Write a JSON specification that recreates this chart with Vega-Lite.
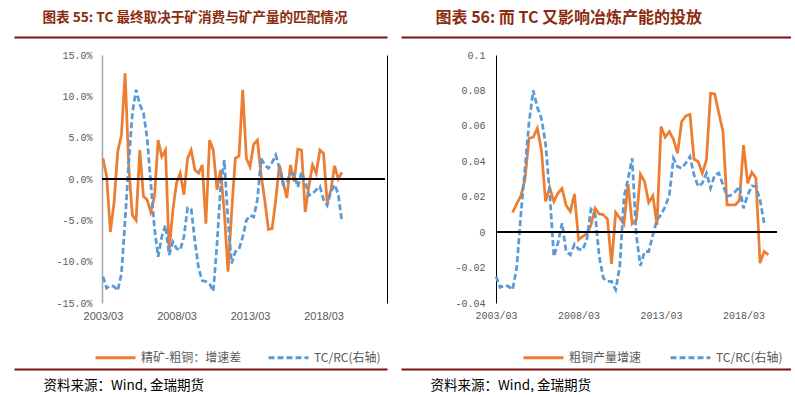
{
"$schema": "https://vega.github.io/schema/vega-lite/v6.json",
"background": "white",
"padding": {"left": 14, "top": 9, "right": 0, "bottom": 0},
"config": {"view": {"stroke": null}, "locale": {"number": {"decimal": ".", "thousands": ",", "grouping": [3], "currency": ["", ""], "minus": "-"}}},
"datasets": {
"left": [
{"series":"精矿-粗铜：增速差","date":"2003-03-01","value":2.5},
{"series":"精矿-粗铜：增速差","date":"2003-06-01","value":0.3},
{"series":"精矿-粗铜：增速差","date":"2003-09-01","value":-6.4},
{"series":"精矿-粗铜：增速差","date":"2003-12-01","value":-2.9},
{"series":"精矿-粗铜：增速差","date":"2004-03-01","value":3.3},
{"series":"精矿-粗铜：增速差","date":"2004-06-01","value":5.3},
{"series":"精矿-粗铜：增速差","date":"2004-09-01","value":12.8},
{"series":"精矿-粗铜：增速差","date":"2004-12-01","value":1.5},
{"series":"精矿-粗铜：增速差","date":"2005-03-01","value":-4.4},
{"series":"精矿-粗铜：增速差","date":"2005-06-01","value":-5.0},
{"series":"精矿-粗铜：增速差","date":"2005-09-01","value":3.5},
{"series":"精矿-粗铜：增速差","date":"2005-12-01","value":-2.1},
{"series":"精矿-粗铜：增速差","date":"2006-03-01","value":-2.5},
{"series":"精矿-粗铜：增速差","date":"2006-06-01","value":-4.0},
{"series":"精矿-粗铜：增速差","date":"2006-09-01","value":-2.1},
{"series":"精矿-粗铜：增速差","date":"2006-12-01","value":4.7},
{"series":"精矿-粗铜：增速差","date":"2007-03-01","value":2.7},
{"series":"精矿-粗铜：增速差","date":"2007-06-01","value":3.5},
{"series":"精矿-粗铜：增速差","date":"2007-09-01","value":-8.8},
{"series":"精矿-粗铜：增速差","date":"2007-12-01","value":-3.8},
{"series":"精矿-粗铜：增速差","date":"2008-03-01","value":-0.5},
{"series":"精矿-粗铜：增速差","date":"2008-06-01","value":0.7},
{"series":"精矿-粗铜：增速差","date":"2008-09-01","value":-1.9},
{"series":"精矿-粗铜：增速差","date":"2008-12-01","value":2.5},
{"series":"精矿-粗铜：增速差","date":"2009-03-01","value":3.5},
{"series":"精矿-粗铜：增速差","date":"2009-06-01","value":1.1},
{"series":"精矿-粗铜：增速差","date":"2009-09-01","value":0.7},
{"series":"精矿-粗铜：增速差","date":"2009-12-01","value":1.7},
{"series":"精矿-粗铜：增速差","date":"2010-03-01","value":-5.4},
{"series":"精矿-粗铜：增速差","date":"2010-06-01","value":4.7},
{"series":"精矿-粗铜：增速差","date":"2010-09-01","value":3.5},
{"series":"精矿-粗铜：增速差","date":"2010-12-01","value":-1.3},
{"series":"精矿-粗铜：增速差","date":"2011-03-01","value":1.1},
{"series":"精矿-粗铜：增速差","date":"2011-06-01","value":-4.0},
{"series":"精矿-粗铜：增速差","date":"2011-09-01","value":-11.2},
{"series":"精矿-粗铜：增速差","date":"2011-12-01","value":-4.0},
{"series":"精矿-粗铜：增速差","date":"2012-03-01","value":2.5},
{"series":"精矿-粗铜：增速差","date":"2012-06-01","value":2.8},
{"series":"精矿-粗铜：增速差","date":"2012-09-01","value":10.8},
{"series":"精矿-粗铜：增速差","date":"2012-12-01","value":2.5},
{"series":"精矿-粗铜：增速差","date":"2013-03-01","value":1.5},
{"series":"精矿-粗铜：增速差","date":"2013-06-01","value":4.2},
{"series":"精矿-粗铜：增速差","date":"2013-09-01","value":4.7},
{"series":"精矿-粗铜：增速差","date":"2013-12-01","value":0.5},
{"series":"精矿-粗铜：增速差","date":"2014-03-01","value":-2.5},
{"series":"精矿-粗铜：增速差","date":"2014-06-01","value":-6.1},
{"series":"精矿-粗铜：增速差","date":"2014-09-01","value":-6.0},
{"series":"精矿-粗铜：增速差","date":"2014-12-01","value":-2.5},
{"series":"精矿-粗铜：增速差","date":"2015-03-01","value":1.7},
{"series":"精矿-粗铜：增速差","date":"2015-06-01","value":-0.3},
{"series":"精矿-粗铜：增速差","date":"2015-09-01","value":-2.3},
{"series":"精矿-粗铜：增速差","date":"2015-12-01","value":1.7},
{"series":"精矿-粗铜：增速差","date":"2016-03-01","value":-0.3},
{"series":"精矿-粗铜：增速差","date":"2016-06-01","value":3.6},
{"series":"精矿-粗铜：增速差","date":"2016-09-01","value":3.5},
{"series":"精矿-粗铜：增速差","date":"2016-12-01","value":-4.0},
{"series":"精矿-粗铜：增速差","date":"2017-03-01","value":-0.9},
{"series":"精矿-粗铜：增速差","date":"2017-06-01","value":1.7},
{"series":"精矿-粗铜：增速差","date":"2017-09-01","value":0.7},
{"series":"精矿-粗铜：增速差","date":"2017-12-01","value":3.5},
{"series":"精矿-粗铜：增速差","date":"2018-03-01","value":3.1},
{"series":"精矿-粗铜：增速差","date":"2018-06-01","value":-2.9},
{"series":"精矿-粗铜：增速差","date":"2018-09-01","value":-1.3},
{"series":"精矿-粗铜：增速差","date":"2018-12-01","value":1.6},
{"series":"精矿-粗铜：增速差","date":"2019-03-01","value":0.0},
{"series":"精矿-粗铜：增速差","date":"2019-06-01","value":0.8},
{"series":"TC/RC(右轴)","date":"2003-03-01","value":-11.8},
{"series":"TC/RC(右轴)","date":"2003-06-01","value":-13.2},
{"series":"TC/RC(右轴)","date":"2003-09-01","value":-12.9},
{"series":"TC/RC(右轴)","date":"2003-12-01","value":-13.0},
{"series":"TC/RC(右轴)","date":"2004-03-01","value":-13.5},
{"series":"TC/RC(右轴)","date":"2004-06-01","value":-11.5},
{"series":"TC/RC(右轴)","date":"2004-09-01","value":-5.0},
{"series":"TC/RC(右轴)","date":"2004-12-01","value":2.0},
{"series":"TC/RC(右轴)","date":"2005-03-01","value":8.0},
{"series":"TC/RC(右轴)","date":"2005-06-01","value":10.8},
{"series":"TC/RC(右轴)","date":"2005-09-01","value":9.0},
{"series":"TC/RC(右轴)","date":"2005-12-01","value":8.0},
{"series":"TC/RC(右轴)","date":"2006-03-01","value":5.0},
{"series":"TC/RC(右轴)","date":"2006-06-01","value":-0.5},
{"series":"TC/RC(右轴)","date":"2006-09-01","value":-6.0},
{"series":"TC/RC(右轴)","date":"2006-12-01","value":-9.4},
{"series":"TC/RC(右轴)","date":"2007-03-01","value":-7.0},
{"series":"TC/RC(右轴)","date":"2007-06-01","value":-5.6},
{"series":"TC/RC(右轴)","date":"2007-09-01","value":-9.2},
{"series":"TC/RC(右轴)","date":"2007-12-01","value":-7.6},
{"series":"TC/RC(右轴)","date":"2008-03-01","value":-8.4},
{"series":"TC/RC(右轴)","date":"2008-06-01","value":-8.6},
{"series":"TC/RC(右轴)","date":"2008-09-01","value":-7.0},
{"series":"TC/RC(右轴)","date":"2008-12-01","value":-3.5},
{"series":"TC/RC(右轴)","date":"2009-03-01","value":-3.6},
{"series":"TC/RC(右轴)","date":"2009-06-01","value":-7.5},
{"series":"TC/RC(右轴)","date":"2009-09-01","value":-10.8},
{"series":"TC/RC(右轴)","date":"2009-12-01","value":-12.3},
{"series":"TC/RC(右轴)","date":"2010-03-01","value":-12.4},
{"series":"TC/RC(右轴)","date":"2010-06-01","value":-12.7},
{"series":"TC/RC(右轴)","date":"2010-09-01","value":-13.6},
{"series":"TC/RC(右轴)","date":"2010-12-01","value":-8.0},
{"series":"TC/RC(右轴)","date":"2011-03-01","value":-1.0},
{"series":"TC/RC(右轴)","date":"2011-06-01","value":2.3},
{"series":"TC/RC(右轴)","date":"2011-09-01","value":-5.0},
{"series":"TC/RC(右轴)","date":"2011-12-01","value":-10.2},
{"series":"TC/RC(右轴)","date":"2012-03-01","value":-8.8},
{"series":"TC/RC(右轴)","date":"2012-06-01","value":-8.5},
{"series":"TC/RC(右轴)","date":"2012-09-01","value":-7.0},
{"series":"TC/RC(右轴)","date":"2012-12-01","value":-5.0},
{"series":"TC/RC(右轴)","date":"2013-03-01","value":-4.4},
{"series":"TC/RC(右轴)","date":"2013-06-01","value":-4.6},
{"series":"TC/RC(右轴)","date":"2013-09-01","value":-2.5},
{"series":"TC/RC(右轴)","date":"2013-12-01","value":2.5},
{"series":"TC/RC(右轴)","date":"2014-03-01","value":1.7},
{"series":"TC/RC(右轴)","date":"2014-06-01","value":1.3},
{"series":"TC/RC(右轴)","date":"2014-09-01","value":2.0},
{"series":"TC/RC(右轴)","date":"2014-12-01","value":2.9},
{"series":"TC/RC(右轴)","date":"2015-03-01","value":1.3},
{"series":"TC/RC(右轴)","date":"2015-06-01","value":-0.7},
{"series":"TC/RC(右轴)","date":"2015-09-01","value":-0.5},
{"series":"TC/RC(右轴)","date":"2015-12-01","value":0.7},
{"series":"TC/RC(右轴)","date":"2016-03-01","value":0.5},
{"series":"TC/RC(右轴)","date":"2016-06-01","value":-1.0},
{"series":"TC/RC(右轴)","date":"2016-09-01","value":0.8},
{"series":"TC/RC(右轴)","date":"2016-12-01","value":-0.3},
{"series":"TC/RC(右轴)","date":"2017-03-01","value":-2.0},
{"series":"TC/RC(右轴)","date":"2017-06-01","value":-1.8},
{"series":"TC/RC(右轴)","date":"2017-09-01","value":-1.3},
{"series":"TC/RC(右轴)","date":"2017-12-01","value":-0.9},
{"series":"TC/RC(右轴)","date":"2018-03-01","value":-2.5},
{"series":"TC/RC(右轴)","date":"2018-06-01","value":-3.2},
{"series":"TC/RC(右轴)","date":"2018-09-01","value":-1.5},
{"series":"TC/RC(右轴)","date":"2018-12-01","value":-0.7},
{"series":"TC/RC(右轴)","date":"2019-03-01","value":-1.8},
{"series":"TC/RC(右轴)","date":"2019-06-01","value":-5.2}
],
"right": [
{"series":"粗铜产量增速","date":"2004-03-01","value":0.0111},
{"series":"粗铜产量增速","date":"2004-06-01","value":0.016},
{"series":"粗铜产量增速","date":"2004-09-01","value":0.0205},
{"series":"粗铜产量增速","date":"2004-12-01","value":0.030},
{"series":"粗铜产量增速","date":"2005-03-01","value":0.053},
{"series":"粗铜产量增速","date":"2005-06-01","value":0.0536},
{"series":"粗铜产量增速","date":"2005-09-01","value":0.0586},
{"series":"粗铜产量增速","date":"2005-12-01","value":0.046},
{"series":"粗铜产量增速","date":"2006-03-01","value":0.0173},
{"series":"粗铜产量增速","date":"2006-06-01","value":0.0252},
{"series":"粗铜产量增速","date":"2006-09-01","value":0.0173},
{"series":"粗铜产量增速","date":"2006-12-01","value":0.022},
{"series":"粗铜产量增速","date":"2007-03-01","value":0.0246},
{"series":"粗铜产量增速","date":"2007-06-01","value":0.015},
{"series":"粗铜产量增速","date":"2007-09-01","value":0.0117},
{"series":"粗铜产量增速","date":"2007-12-01","value":0.0216},
{"series":"粗铜产量增速","date":"2008-03-01","value":-0.0043},
{"series":"粗铜产量增速","date":"2008-06-01","value":-0.0024},
{"series":"粗铜产量增速","date":"2008-09-01","value":-0.001},
{"series":"粗铜产量增速","date":"2008-12-01","value":0.0041},
{"series":"粗铜产量增速","date":"2009-03-01","value":0.0135},
{"series":"粗铜产量增速","date":"2009-06-01","value":0.0103},
{"series":"粗铜产量增速","date":"2009-09-01","value":0.0098},
{"series":"粗铜产量增速","date":"2009-12-01","value":0.0073},
{"series":"粗铜产量增速","date":"2010-03-01","value":-0.0179},
{"series":"粗铜产量增速","date":"2010-06-01","value":0.0111},
{"series":"粗铜产量增速","date":"2010-09-01","value":0.0079},
{"series":"粗铜产量增速","date":"2010-12-01","value":0.0045},
{"series":"粗铜产量增速","date":"2011-03-01","value":0.0273},
{"series":"粗铜产量增速","date":"2011-06-01","value":0.0047},
{"series":"粗铜产量增速","date":"2011-09-01","value":0.007},
{"series":"粗铜产量增速","date":"2011-12-01","value":0.0327},
{"series":"粗铜产量增速","date":"2012-03-01","value":0.0286},
{"series":"粗铜产量增速","date":"2012-06-01","value":0.0167},
{"series":"粗铜产量增速","date":"2012-09-01","value":0.0205},
{"series":"粗铜产量增速","date":"2012-12-01","value":0.0041},
{"series":"粗铜产量增速","date":"2013-03-01","value":0.0596},
{"series":"粗铜产量增速","date":"2013-06-01","value":0.0536},
{"series":"粗铜产量增速","date":"2013-09-01","value":0.0568},
{"series":"粗铜产量增速","date":"2013-12-01","value":0.0524},
{"series":"粗铜产量增速","date":"2014-03-01","value":0.0445},
{"series":"粗铜产量增速","date":"2014-06-01","value":0.0624},
{"series":"粗铜产量增速","date":"2014-09-01","value":0.0656},
{"series":"粗铜产量增速","date":"2014-12-01","value":0.0665},
{"series":"粗铜产量增速","date":"2015-03-01","value":0.0412},
{"series":"粗铜产量增速","date":"2015-06-01","value":0.0398},
{"series":"粗铜产量增速","date":"2015-09-01","value":0.0333},
{"series":"粗铜产量增速","date":"2015-12-01","value":0.0408},
{"series":"粗铜产量增速","date":"2016-03-01","value":0.0784},
{"series":"粗铜产量增速","date":"2016-06-01","value":0.078},
{"series":"粗铜产量增速","date":"2016-09-01","value":0.0671},
{"series":"粗铜产量增速","date":"2016-12-01","value":0.0568},
{"series":"粗铜产量增速","date":"2017-03-01","value":0.0154},
{"series":"粗铜产量增速","date":"2017-06-01","value":0.0154},
{"series":"粗铜产量增速","date":"2017-09-01","value":0.0154},
{"series":"粗铜产量增速","date":"2017-12-01","value":0.0179},
{"series":"粗铜产量增速","date":"2018-03-01","value":0.0492},
{"series":"粗铜产量增速","date":"2018-06-01","value":0.0276},
{"series":"粗铜产量增速","date":"2018-09-01","value":0.0338},
{"series":"粗铜产量增速","date":"2018-12-01","value":0.0305},
{"series":"粗铜产量增速","date":"2019-03-01","value":-0.0175},
{"series":"粗铜产量增速","date":"2019-06-01","value":-0.0109},
{"series":"粗铜产量增速","date":"2019-09-01","value":-0.0128},
{"series":"TC/RC(右轴)","date":"2003-03-01","value":-0.025},
{"series":"TC/RC(右轴)","date":"2003-06-01","value":-0.0312},
{"series":"TC/RC(右轴)","date":"2003-09-01","value":-0.030},
{"series":"TC/RC(右轴)","date":"2003-12-01","value":-0.0306},
{"series":"TC/RC(右轴)","date":"2004-03-01","value":-0.0325},
{"series":"TC/RC(右轴)","date":"2004-06-01","value":-0.020},
{"series":"TC/RC(右轴)","date":"2004-09-01","value":0.010},
{"series":"TC/RC(右轴)","date":"2004-12-01","value":0.036},
{"series":"TC/RC(右轴)","date":"2005-03-01","value":0.062},
{"series":"TC/RC(右轴)","date":"2005-06-01","value":0.080},
{"series":"TC/RC(右轴)","date":"2005-09-01","value":0.0705},
{"series":"TC/RC(右轴)","date":"2005-12-01","value":0.064},
{"series":"TC/RC(右轴)","date":"2006-03-01","value":0.050},
{"series":"TC/RC(右轴)","date":"2006-06-01","value":0.022},
{"series":"TC/RC(右轴)","date":"2006-09-01","value":-0.0137},
{"series":"TC/RC(右轴)","date":"2006-12-01","value":-0.0062},
{"series":"TC/RC(右轴)","date":"2007-03-01","value":0.005},
{"series":"TC/RC(右轴)","date":"2007-06-01","value":-0.011},
{"series":"TC/RC(右轴)","date":"2007-09-01","value":-0.0128},
{"series":"TC/RC(右轴)","date":"2007-12-01","value":-0.0068},
{"series":"TC/RC(右轴)","date":"2008-03-01","value":-0.0096},
{"series":"TC/RC(右轴)","date":"2008-06-01","value":-0.010},
{"series":"TC/RC(右轴)","date":"2008-09-01","value":-0.004},
{"series":"TC/RC(右轴)","date":"2008-12-01","value":0.013},
{"series":"TC/RC(右轴)","date":"2009-03-01","value":0.0107},
{"series":"TC/RC(右轴)","date":"2009-06-01","value":-0.0137},
{"series":"TC/RC(右轴)","date":"2009-09-01","value":-0.026},
{"series":"TC/RC(右轴)","date":"2009-12-01","value":-0.0278},
{"series":"TC/RC(右轴)","date":"2010-03-01","value":-0.0278},
{"series":"TC/RC(右轴)","date":"2010-06-01","value":-0.0325},
{"series":"TC/RC(右轴)","date":"2010-09-01","value":-0.019},
{"series":"TC/RC(右轴)","date":"2010-12-01","value":0.020},
{"series":"TC/RC(右轴)","date":"2011-03-01","value":0.030},
{"series":"TC/RC(右轴)","date":"2011-06-01","value":0.0417},
{"series":"TC/RC(右轴)","date":"2011-09-01","value":-0.002},
{"series":"TC/RC(右轴)","date":"2011-12-01","value":-0.019},
{"series":"TC/RC(右轴)","date":"2012-03-01","value":-0.011},
{"series":"TC/RC(右轴)","date":"2012-06-01","value":-0.011},
{"series":"TC/RC(右轴)","date":"2012-09-01","value":-0.0015},
{"series":"TC/RC(右轴)","date":"2012-12-01","value":0.007},
{"series":"TC/RC(右轴)","date":"2013-03-01","value":0.0098},
{"series":"TC/RC(右轴)","date":"2013-06-01","value":0.0145},
{"series":"TC/RC(右轴)","date":"2013-09-01","value":0.021},
{"series":"TC/RC(右轴)","date":"2013-12-01","value":0.0417},
{"series":"TC/RC(右轴)","date":"2014-03-01","value":0.037},
{"series":"TC/RC(右轴)","date":"2014-06-01","value":0.036},
{"series":"TC/RC(右轴)","date":"2014-09-01","value":0.039},
{"series":"TC/RC(右轴)","date":"2014-12-01","value":0.0427},
{"series":"TC/RC(右轴)","date":"2015-03-01","value":0.0323},
{"series":"TC/RC(右轴)","date":"2015-06-01","value":0.0258},
{"series":"TC/RC(右轴)","date":"2015-09-01","value":0.0276},
{"series":"TC/RC(右轴)","date":"2015-12-01","value":0.0333},
{"series":"TC/RC(右轴)","date":"2016-03-01","value":0.0248},
{"series":"TC/RC(右轴)","date":"2016-06-01","value":0.0323},
{"series":"TC/RC(右轴)","date":"2016-09-01","value":0.0333},
{"series":"TC/RC(右轴)","date":"2016-12-01","value":0.0267},
{"series":"TC/RC(右轴)","date":"2017-03-01","value":0.0201},
{"series":"TC/RC(右轴)","date":"2017-06-01","value":0.021},
{"series":"TC/RC(右轴)","date":"2017-09-01","value":0.0229},
{"series":"TC/RC(右轴)","date":"2017-12-01","value":0.0258},
{"series":"TC/RC(右轴)","date":"2018-03-01","value":0.0135},
{"series":"TC/RC(右轴)","date":"2018-06-01","value":0.021},
{"series":"TC/RC(右轴)","date":"2018-09-01","value":0.0261},
{"series":"TC/RC(右轴)","date":"2018-12-01","value":0.0258},
{"series":"TC/RC(右轴)","date":"2019-03-01","value":0.0182},
{"series":"TC/RC(右轴)","date":"2019-06-01","value":0.0051}
]
},
"hconcat": [
{
"width": 373, "height": 248,
"data": {"name": "left"},
"layer": [
{
"mark": {"type": "line", "strokeWidth": 2.75},
"encoding": {
"x": {"field": "date", "type": "temporal",
"scale": {"domain": [{"year": 1997, "month": 2, "date": 10, "utc": true}, {"year": 2022, "month": 6, "date": 25, "utc": true}]},
"axis": {"orient": "bottom", "domain": false, "ticks": false, "grid": false, "title": null, "labelPadding": 7,
"values": [{"year": 2003, "month": 3, "date": 1, "utc": true}, {"year": 2008, "month": 3, "date": 1, "utc": true}, {"year": 2013, "month": 3, "date": 1, "utc": true}, {"year": 2018, "month": 3, "date": 1, "utc": true}],
"labelExpr": "utcFormat(datum.value, '%Y/%m')", "labelFont": "Liberation Sans", "labelFontSize": 11, "labelColor": "#595959"}},
"y": {"field": "value", "type": "quantitative",
"scale": {"domain": [-15, 15], "nice": false, "zero": false},
"axis": {"orient": "left", "offset": -88, "values": [-15, -10, -5, 0, 5, 10, 15], "labelExpr": "format(datum.value, '.1f') + '%'",
"domainColor": "#A6A6A6", "domainWidth": 1.5, "ticks": false, "grid": false, "title": null, "labelPadding": 10,
"labelFont": "Liberation Mono", "labelFontSize": 10, "labelColor": "#595959"}},
"color": {"field": "series", "type": "nominal",
"scale": {"domain": ["精矿-粗铜：增速差", "TC/RC(右轴)"], "range": ["#ED7D31", "#5B9BD5"]},
"legend": {"orient": "none", "legendX": 80, "legendY": 281, "direction": "horizontal", "title": null, "symbolType": "stroke", "symbolSize": 1600, "symbolStrokeWidth": 3, "labelFont": "Noto Sans CJK SC", "labelFontSize": 12, "labelColor": "#595959", "labelOffset": 4, "columnPadding": 20}},
"strokeDash": {"field": "series", "type": "nominal",
"scale": {"domain": ["精矿-粗铜：增速差", "TC/RC(右轴)"], "range": [[1, 0], [6, 3]]},
"legend": {"orient": "none", "legendX": 80, "legendY": 281, "direction": "horizontal", "title": null, "symbolType": "stroke", "symbolSize": 1600, "symbolStrokeWidth": 3, "labelFont": "Noto Sans CJK SC", "labelFontSize": 12, "labelColor": "#595959", "labelOffset": 4, "columnPadding": 20}}
}
},
{
"mark": {"type": "rule", "color": "black", "strokeWidth": 1},
"encoding": {
"x": {"datum": {"year": 2003, "month": 3, "date": 1, "utc": true}, "type": "temporal", "axis": null},
"x2": {"datum": {"year": 2022, "month": 5, "date": 1, "utc": true}},
"y": {"datum": 0, "type": "quantitative", "axis": null}
}
},
{
"mark": {"type": "line", "opacity": 0},
"encoding": {
"x": {"field": "date", "type": "temporal",
"axis": {"orient": "top", "offset": 18, "labels": false, "ticks": false, "grid": false, "domainColor": "#7F1010", "domainWidth": 2,
"title": "图表 55: TC 最终取决于矿消费与矿产量的匹配情况", "titleAnchor": "start", "titleAlign": "left", "titleX": 28, "titleY": -20, "titleBaseline": "middle",
"titleFont": "Noto Sans CJK SC", "titleFontSize": 13.6, "titleFontWeight": "bold", "titleColor": "#8B2C0E"}},
"y": {"field": "value", "type": "quantitative",
"axis": {"orient": "right", "labels": false, "ticks": false, "grid": false, "title": null, "domainColor": "black", "domainWidth": 1}}
}
},
{
"mark": {"type": "line", "opacity": 0},
"encoding": {
"x": {"field": "date", "type": "temporal",
"axis": {"orient": "bottom", "offset": 66, "labels": false, "ticks": false, "grid": false, "domainColor": "#7F1010", "domainWidth": 2,
"title": "资料来源：Wind, 金瑞期货", "titleAnchor": "start", "titleAlign": "left", "titleX": 29, "titleY": 16, "titleBaseline": "middle",
"titleFont": "Noto Sans CJK SC", "titleFontSize": 13.5, "titleFontWeight": "normal", "titleColor": "black"}},
"y": {"field": "value", "type": "quantitative", "axis": null}
}
}
],
"resolve": {"axis": {"x": "independent", "y": "independent"}}
},
{
"width": 390, "height": 248,
"data": {"name": "right"},
"layer": [
{
"mark": {"type": "line", "strokeWidth": 2.75},
"encoding": {
"x": {"field": "date", "type": "temporal",
"scale": {"domain": [{"year": 1997, "month": 5, "date": 27, "utc": true}, {"year": 2021, "month": 1, "date": 15, "utc": true}]},
"axis": {"orient": "bottom", "domain": false, "ticks": false, "grid": false, "title": null, "labelPadding": 7,
"values": [{"year": 2003, "month": 3, "date": 1, "utc": true}, {"year": 2008, "month": 3, "date": 1, "utc": true}, {"year": 2013, "month": 3, "date": 1, "utc": true}, {"year": 2018, "month": 3, "date": 1, "utc": true}],
"labelExpr": "utcFormat(datum.value, '%Y/%m')", "labelFont": "Liberation Mono", "labelFontSize": 10, "labelColor": "#595959"}},
"y": {"field": "value", "type": "quantitative",
"scale": {"domain": [-0.04, 0.1], "nice": false, "zero": false},
"axis": {"orient": "left", "offset": -95, "values": [-0.04, -0.02, 0, 0.02, 0.04, 0.06, 0.08, 0.1], "format": "~g",
"domainColor": "black", "domainWidth": 1, "ticks": false, "grid": false, "title": null, "labelPadding": 11,
"labelFont": "Liberation Mono", "labelFontSize": 10, "labelColor": "#595959"}},
"color": {"field": "series", "type": "nominal",
"scale": {"domain": ["粗铜产量增速", "TC/RC(右轴)"], "range": ["#ED7D31", "#5B9BD5"]},
"legend": {"orient": "none", "legendX": 121, "legendY": 281, "direction": "horizontal", "title": null, "symbolType": "stroke", "symbolSize": 1600, "symbolStrokeWidth": 3, "labelFont": "Noto Sans CJK SC", "labelFontSize": 12, "labelColor": "#595959", "labelOffset": 4, "columnPadding": 22}},
"strokeDash": {"field": "series", "type": "nominal",
"scale": {"domain": ["粗铜产量增速", "TC/RC(右轴)"], "range": [[1, 0], [6, 3]]},
"legend": {"orient": "none", "legendX": 121, "legendY": 281, "direction": "horizontal", "title": null, "symbolType": "stroke", "symbolSize": 1600, "symbolStrokeWidth": 3, "labelFont": "Noto Sans CJK SC", "labelFontSize": 12, "labelColor": "#595959", "labelOffset": 4, "columnPadding": 22}}
}
},
{
"mark": {"type": "rule", "color": "black", "strokeWidth": 1},
"encoding": {
"x": {"datum": {"year": 2003, "month": 3, "date": 1, "utc": true}, "type": "temporal", "axis": null},
"x2": {"datum": {"year": 2020, "month": 3, "date": 10, "utc": true}},
"y": {"datum": 0, "type": "quantitative", "axis": null}
}
},
{
"mark": {"type": "line", "opacity": 0},
"encoding": {
"x": {"field": "date", "type": "temporal",
"axis": {"orient": "top", "offset": 18, "labels": false, "ticks": false, "grid": false, "domainColor": "#7F1010", "domainWidth": 2,
"title": "图表 56: 而 TC 又影响冶炼产能的投放", "titleAnchor": "start", "titleAlign": "left", "titleX": 34, "titleY": -20, "titleBaseline": "middle",
"titleFont": "Noto Sans CJK SC", "titleFontSize": 16, "titleFontWeight": "bold", "titleColor": "#8B2C0E"}},
"y": {"field": "value", "type": "quantitative", "axis": null}
}
},
{
"mark": {"type": "line", "opacity": 0},
"encoding": {
"x": {"field": "date", "type": "temporal",
"axis": {"orient": "bottom", "offset": 66, "labels": false, "ticks": false, "grid": false, "domainColor": "#7F1010", "domainWidth": 2,
"title": "资料来源：Wind, 金瑞期货", "titleAnchor": "start", "titleAlign": "left", "titleX": 29, "titleY": 16, "titleBaseline": "middle",
"titleFont": "Noto Sans CJK SC", "titleFontSize": 13.5, "titleFontWeight": "normal", "titleColor": "black"}},
"y": {"field": "value", "type": "quantitative", "axis": null}
}
}
],
"resolve": {"axis": {"x": "independent", "y": "independent"}}
}
],
"spacing": 14,
"bounds": "flush",
"resolve": {"scale": {"color": "independent", "strokeDash": "independent"}, "legend": {"color": "independent", "strokeDash": "independent"}}
}
